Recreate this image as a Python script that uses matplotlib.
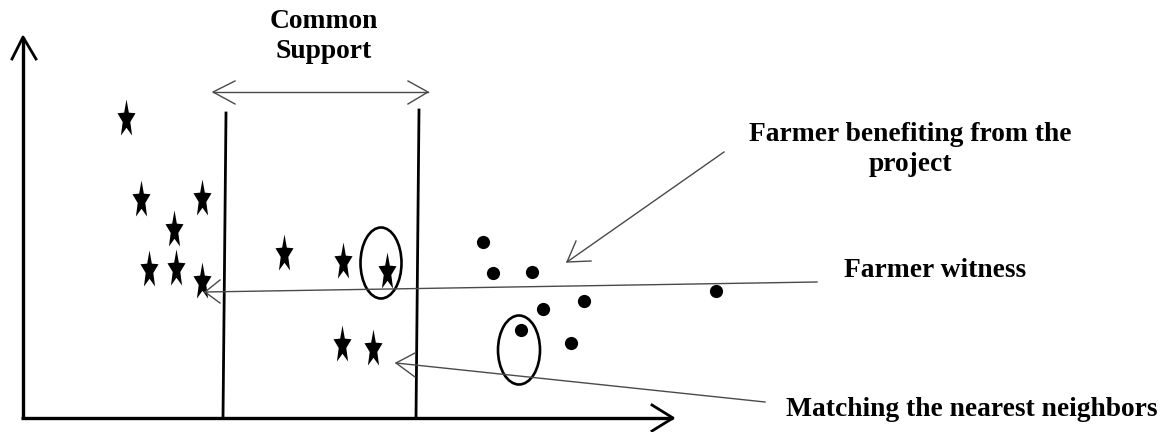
import numpy as np
import matplotlib
matplotlib.use("Agg")
import matplotlib.pyplot as plt
from matplotlib.path import Path
from matplotlib.patches import Ellipse

# ---- data (pixel-space diagram coordinates, y grows downward) ----
star_x = [126, 141, 202, 174, 149, 176, 202, 284, 343, 387, 342, 373]
star_y = [117, 198, 197, 228, 268, 267, 280, 252, 260, 270, 343, 347]
dot_x = [483, 493, 532, 543, 584, 521, 571, 716]
dot_y = [242, 273, 272, 309, 301, 330, 343, 291]

labels = ["Common\nSupport", "Farmer benefiting from the\nproject",
          "Farmer witness", "Matching the nearest neighbors"]
label_x = [324, 910, 935, 972]
label_y = [58, 171, 277, 416]   # baseline of last line

W, H = 1167, 432
fig = plt.figure(figsize=(W / 100, H / 100), dpi=100)
ax = fig.add_axes([0, 0, 1, 1])
ax.set_xlim(0, W)
ax.set_ylim(H, 0)
ax.axis("off")

# custom tall star marker
ang_o = np.deg2rad(90 + 72 * np.arange(5))
ang_i = ang_o + np.deg2rad(36)
verts = []
for ao, ai in zip(ang_o, ang_i):
    verts.append((np.cos(ao), np.sin(ao)))
    verts.append((0.42 * np.cos(ai), 0.42 * np.sin(ai)))
verts = np.array(verts)
verts[:, 1] *= 2.1
verts[:, 1] -= (verts[:, 1].max() + verts[:, 1].min()) / 2
verts = np.vstack([verts, verts[:1]])
codes = [Path.MOVETO] + [Path.LINETO] * 9 + [Path.CLOSEPOLY]
star = Path(verts, codes)

ax.plot(star_x, star_y, linestyle="none", marker=star, markersize=26,
        color="black", markeredgewidth=0)
ax.plot(dot_x, dot_y, linestyle="none", marker="o", markersize=9.5,
        color="black", markeredgewidth=0)

# axes of the diagram
ax.plot([23, 23], [37, 418], color="black", lw=2.4, solid_capstyle="butt")
ax.plot([21, 673], [418, 418], color="black", lw=2.4, solid_capstyle="butt")
ax.plot([12, 23, 36], [59, 37, 59], color="black", lw=2.0)
ax.plot([652, 673, 652], [405, 418, 431], color="black", lw=2.0)

# common support lines
ax.plot([226, 223], [113, 418], color="black", lw=2.0)
ax.plot([419, 416], [110, 418], color="black", lw=2.0)

gray = "#4a4a4a"
# double arrow
ax.plot([213, 428], [92, 92], color=gray, lw=1.0)
ax.plot([235, 213, 235], [81, 92, 104], color=gray, lw=1.0)
ax.plot([408, 428, 408], [81, 92, 104], color=gray, lw=1.0)

# pointer: farmer benefiting
ax.plot([724, 567], [152, 262], color=gray, lw=1.0)
ax.plot([576, 567, 591], [241, 262, 261], color=gray, lw=1.0)
# pointer: farmer witness
ax.plot([817, 205], [282, 292], color=gray, lw=1.0)
ax.plot([220, 205, 220], [280, 292, 303], color=gray, lw=1.0)
# pointer: matching
ax.plot([765, 396], [402, 363], color=gray, lw=1.0)
ax.plot([415, 396, 415], [353, 363, 377], color=gray, lw=1.0)

# ellipses
ax.add_patch(Ellipse((381, 263), 41, 71, fill=False, edgecolor="black", lw=1.9))
ax.add_patch(Ellipse((519, 350), 42, 69, fill=False, edgecolor="black", lw=1.9))

for t, x, y in zip(labels, label_x, label_y):
    lines = t.split("\n")
    n = len(lines) - 1
    for k, line in enumerate(lines):
        ax.text(x, y - 30 * (n - k), line, ha="center", va="baseline",
                fontsize=19.8, fontweight="bold", family="Liberation Serif")

fig.savefig("out.png", dpi=100)
